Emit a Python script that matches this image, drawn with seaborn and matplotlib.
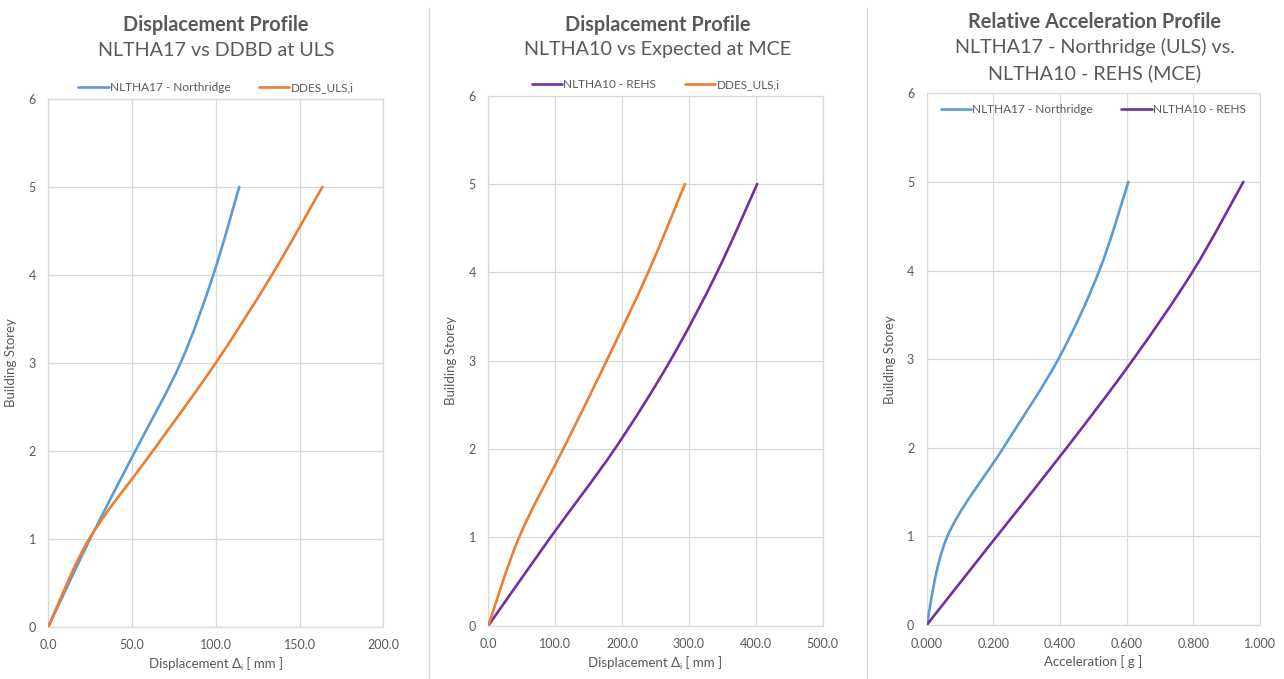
import numpy as np
import pandas as pd
import matplotlib
matplotlib.use("Agg")
import matplotlib.pyplot as plt
from matplotlib.path import Path
from matplotlib.patches import PathPatch
from matplotlib.lines import Line2D
import seaborn as sns

# ---------------- data ----------------
storeys = [0, 1, 2, 3, 4, 5]

# Panel 1: Displacement (mm) at ULS
p1_nltha17 = [0.0, 25.0, 52.0, 79.0, 98.5, 114.0]
p1_ddes = [0.0, 24.5, 62.5, 100.0, 133.5, 163.6]

# Panel 2: Displacement (mm) at MCE
p2_nltha10 = [0.0, 93.0, 189.0, 272.0, 342.0, 402.0]
p2_ddes = [0.0, 46.0, 112.0, 177.0, 239.0, 294.0]

# Panel 3: Relative acceleration (g)
p3_nltha17 = [0.0, 0.062, 0.23, 0.395, 0.518, 0.605]
p3_nltha10 = [0.0, 0.21, 0.42, 0.62, 0.80, 0.95]

x_ticks_1 = [0, 50, 100, 150, 200]
x_ticks_2 = [0, 100, 200, 300, 400, 500]
x_ticks_3 = [0.0, 0.2, 0.4, 0.6, 0.8, 1.0]
y_ticks = [0, 1, 2, 3, 4, 5, 6]

BLUE = "#5B9BD5"
ORANGE = "#ED7D31"
PURPLE = "#7030A0"
GREY = "#595959"
GRID = "#D9D9D9"

sns.set_theme(style="whitegrid")
FAM = ["Lato", "DejaVu Sans"]
plt.rcParams["font.family"] = FAM

W, H = 1284, 679
fig = plt.figure(figsize=(W / 100, H / 100), dpi=100)
fig.patch.set_facecolor("white")


def px_axes(left, top, right, bottom):
    return fig.add_axes([left / W, 1 - bottom / H, (right - left) / W, (bottom - top) / H])


def smooth_path(xs, ys):
    pts = np.column_stack([xs, ys]).astype(float)
    n = len(pts)
    verts = [pts[0]]
    codes = [Path.MOVETO]
    for i in range(n - 1):
        p0 = pts[max(i - 1, 0)]
        p1 = pts[i]
        p2 = pts[i + 1]
        p3 = pts[min(i + 2, n - 1)]
        c1 = p1 + (p2 - p0) / 6.0
        c2 = p2 - (p3 - p1) / 6.0
        verts += [c1, c2, p2]
        codes += [Path.CURVE4] * 3
    return Path(verts, codes)


def draw_series(ax, xs, name, color):
    df = pd.DataFrame({"x": xs, "storey": storeys})
    sns.lineplot(data=df, x="x", y="storey", ax=ax, color=color, sort=False,
                 estimator=None, legend=False)
    line = ax.lines[-1]
    line.remove()
    patch = PathPatch(smooth_path(xs, storeys), facecolor="none", edgecolor=color,
                      lw=1.9, capstyle="round", joinstyle="round", zorder=3)
    ax.add_patch(patch)
    return Line2D([0], [0], color=color, lw=1.9, label=name)


def style_axes(ax, xticks, xfmt, xlabel):
    ax.set_xlim(xticks[0], xticks[-1])
    ax.set_ylim(0, 6)
    ax.set_xticks(xticks)
    ax.set_yticks(y_ticks)
    ax.set_xticklabels([xfmt.format(v) for v in xticks])
    ax.set_yticklabels([str(v) for v in y_ticks])
    ax.grid(True, color=GRID, lw=0.9)
    ax.set_facecolor("white")
    for s in ax.spines.values():
        s.set_visible(True)
        s.set_color(GRID)
        s.set_linewidth(0.9)
    ax.tick_params(axis="both", length=0, labelsize=9, labelcolor=GREY, pad=9)
    for lab in ax.get_xticklabels() + ax.get_yticklabels():
        lab.set_family(FAM)
    ax.set_xlabel(xlabel, fontsize=9.5, color=GREY, labelpad=4, family=FAM)
    ax.set_ylabel("Building Storey", fontsize=9.5, color=GREY, labelpad=8, family=FAM)


disp_label = "Displacement \u0394\u1d62 [ mm ]"

# ---- Panel 1 ----
ax1 = px_axes(48.3, 99.0, 383.3, 626.7)
h1 = draw_series(ax1, p1_nltha17, "NLTHA17 - Northridge", BLUE)
h2 = draw_series(ax1, p1_ddes, "DDES_ULS,i", ORANGE)
style_axes(ax1, x_ticks_1, "{:.1f}", disp_label)
ax1.legend(handles=[h1, h2], loc="lower center", bbox_to_anchor=(0.5, 1.0), ncol=2,
           frameon=False, fontsize=8.5, handlelength=2.6, columnspacing=2.4,
           handletextpad=0.1, borderaxespad=0.1, labelcolor=GREY)

# ---- Panel 2 ----
ax2 = px_axes(488.3, 95.7, 822.7, 625.7)
h3 = draw_series(ax2, p2_nltha10, "NLTHA10 - REHS", PURPLE)
h4 = draw_series(ax2, p2_ddes, "DDES_ULS,i", ORANGE)
style_axes(ax2, x_ticks_2, "{:.1f}", disp_label)
ax2.legend(handles=[h3, h4], loc="lower center", bbox_to_anchor=(0.5, 1.0), ncol=2,
           frameon=False, fontsize=8.5, handlelength=2.6, columnspacing=2.4,
           handletextpad=0.1, borderaxespad=0.1, labelcolor=GREY)

# ---- Panel 3 ----
ax3 = px_axes(926.7, 93.3, 1260.0, 625.0)
h5 = draw_series(ax3, p3_nltha17, "NLTHA17 - Northridge", BLUE)
h6 = draw_series(ax3, p3_nltha10, "NLTHA10 - REHS", PURPLE)
style_axes(ax3, x_ticks_3, "{:.3f}", "Acceleration [ g ]")
ax3.legend(handles=[h5, h6], loc="upper center", bbox_to_anchor=(0.5, 0.995), ncol=2,
           frameon=False, fontsize=8.5, handlelength=2.6, columnspacing=2.4,
           handletextpad=0.1, borderaxespad=0.3, labelcolor=GREY)

# ---- Titles ----
def title(xc, y, text, bold=False):
    fig.text(xc / W, 1 - y / H, text, ha="center", va="center",
             fontsize=14.3 if bold else 14.2,
             color=GREY, fontweight="bold" if bold else "normal", family=FAM)


title(215.8, 25, "Displacement Profile", bold=True)
title(215.8, 50, "NLTHA17 vs DDBD at ULS")
title(658, 25, "Displacement Profile", bold=True)
title(658, 50, "NLTHA10 vs Expected at MCE")
title(1095, 22, "Relative Acceleration Profile", bold=True)
title(1095, 47, "NLTHA17 - Northridge (ULS) vs.")
title(1095, 73, "NLTHA10 - REHS (MCE)")

# ---- Panel separators ----
for xs in (429.0, 866.5):
    fig.add_artist(Line2D([xs / W, xs / W], [0.0, 1 - 8 / H], color=GRID, lw=1.0))

fig.savefig("out.png", dpi=100, facecolor="white")
